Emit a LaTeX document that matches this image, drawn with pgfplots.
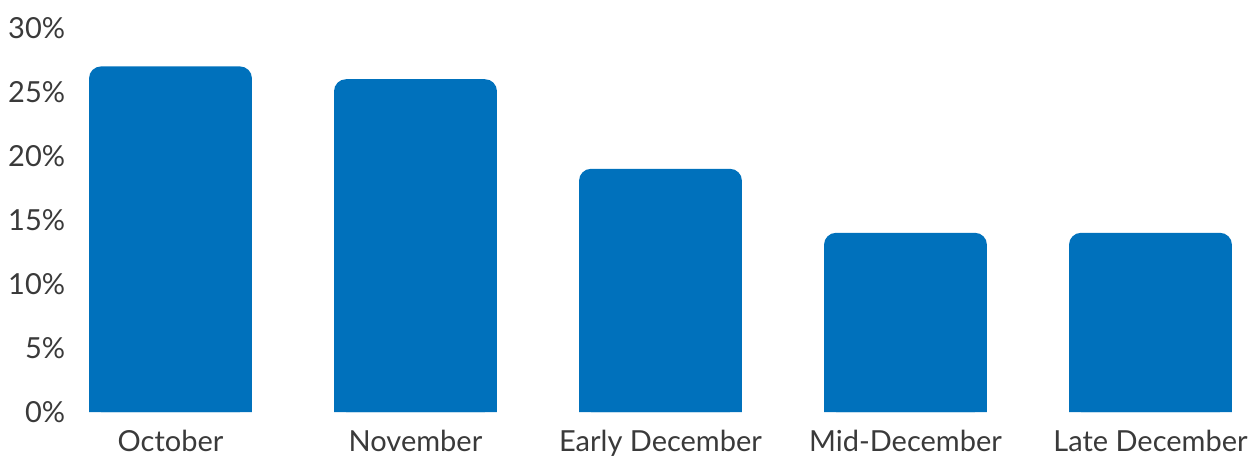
\documentclass[border=0pt]{standalone}
\usepackage{fontspec}
\setmainfont{Lato}
\usepackage{pgfplots}
\pgfplotsset{compat=1.18}
\definecolor{barblue}{HTML}{0071BC}
\definecolor{txt}{HTML}{3A3A3A}
\begin{document}
\begin{tikzpicture}[x=1pt,y=1pt]
\begin{axis}[
  at={(82.3pt,44pt)}, anchor=south west,
  scale only axis,
  width=1156.4pt, height=384pt,
  xmin=-0.36, xmax=4.36,
  ymin=0, ymax=30,
  axis line style={draw=none},
  tick style={draw=none},
  xtick=data,
  xticklabels={October,November,Early December,Mid-December,Late December},
  ytick={0,5,10,15,20,25,30},
  yticklabel={\pgfmathprintnumber{\tick}\%},
  /pgf/number format/assume math mode=true,
  ticklabel style={font=\fontsize{29}{34}\selectfont, text=txt},
  yticklabel style={inner sep=0pt, anchor=east, xshift=-17pt},
  xticklabel style={inner sep=0pt, anchor=north, yshift=-14pt},
  ybar, bar width=0.665, bar shift=0pt,
  clip=false,
]
\addplot[fill=barblue, draw=none, rounded corners=12pt] coordinates {(0,27) (1,26) (2,19) (3,14) (4,14)};
\addplot[fill=barblue, draw=none, sharp corners] coordinates {(0,5) (1,5) (2,5) (3,5) (4,5)};
\end{axis}
\pgfresetboundingbox
\path[use as bounding box] (0,0) rectangle (1249,456);
\end{tikzpicture}
\end{document}
